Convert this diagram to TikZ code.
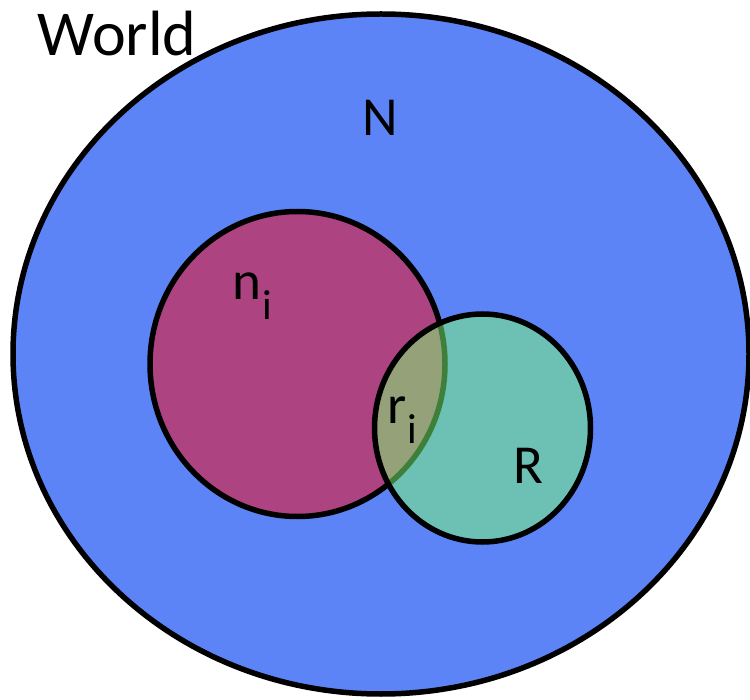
\documentclass[tikz,border=0pt]{standalone}
\usepackage{fontspec}
\setmainfont{Carlito}
\usetikzlibrary{shapes.geometric}
\definecolor{worldblue}{RGB}{92,132,246}
\definecolor{setred}{RGB}{228,25,50}
\definecolor{setgreen}{RGB}{125,255,115}
\newcommand{\lowsub}[1]{\kern1pt\raisebox{-0.36em}{\fontsize{42}{46}\selectfont #1}}
\begin{document}
\begin{tikzpicture}[x=1pt,y=-1pt,
  setshape/.style={ellipse,draw=black,line width=5.5pt,inner sep=0pt,outer sep=0pt},
  lbl/.style={font=\fontsize{55}{64}\selectfont,inner sep=0pt,text=black}]
\useasboundingbox (0,0) rectangle (750,700);
\node[setshape,fill=worldblue,minimum width=736pt,minimum height=680pt] (world) at (381,354) {};
\node[setshape,fill=setred,fill opacity=0.6,minimum width=295pt,minimum height=305pt] (ni) at (297.5,364) {};
\node[setshape,fill=setgreen,fill opacity=0.5,minimum width=216pt,minimum height=228pt] (R) at (482.5,428) {};
\node[font=\fontsize{64}{72}\selectfont,inner sep=0pt] (worldlbl) at (117,34) {World};
\node[lbl] (Nlbl) at (380,118) {N};
\node[lbl,anchor=base west] (nilbl) at (232,300) {n\lowsub{i}};
\node[lbl,anchor=base west] (rilbl) at (387,424) {r\lowsub{i}};
\node[lbl] (Rlbl) at (528,466) {R};
\end{tikzpicture}
\end{document}
